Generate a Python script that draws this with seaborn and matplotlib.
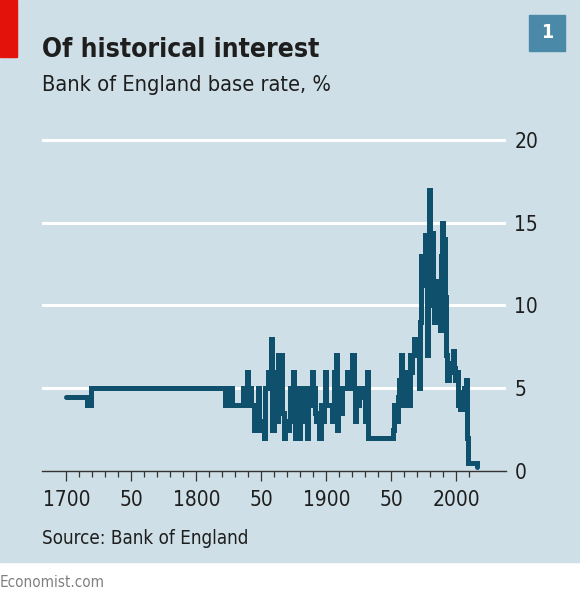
import matplotlib
matplotlib.use('Agg')
import matplotlib.pyplot as plt
import seaborn as sns
from matplotlib.patches import Rectangle

# Bank of England base rate, year it changed (year-end values) and new rate, %
years = [1700, 1716, 1719, 1822, 1825, 1827, 1836, 1838, 1839, 1840,
         1842, 1844, 1845, 1846, 1847, 1848, 1849, 1850, 1852, 1853,
         1855, 1857, 1858, 1860, 1861, 1863, 1864, 1865, 1866, 1867,
         1868, 1870, 1871, 1872, 1873, 1874, 1875, 1876, 1877, 1878,
         1879, 1880, 1881, 1883, 1884, 1885, 1886, 1888, 1889, 1890,
         1891, 1892, 1894, 1896, 1897, 1898, 1899, 1900, 1904, 1905,
         1906, 1907, 1908, 1909, 1910, 1911, 1912, 1916, 1917, 1919,
         1920, 1921, 1922, 1923, 1925, 1927, 1929, 1930, 1931, 1932,
         1951, 1952, 1953, 1954, 1955, 1956, 1957, 1958, 1960, 1961,
         1962, 1963, 1964, 1965, 1966, 1967, 1968, 1969, 1970, 1971,
         1972, 1973, 1974, 1975, 1976, 1977, 1978, 1979, 1980, 1981,
         1982, 1983, 1984, 1985, 1986, 1987, 1988, 1989, 1990, 1991,
         1992, 1993, 1994, 1995, 1996, 1997, 1998, 1999, 2000, 2001,
         2003, 2004, 2005, 2006, 2007, 2008, 2009, 2016]
rates = [4.5, 4, 5, 4, 5, 4, 5, 4, 6, 5,
         4, 2.5, 3.5, 3, 5, 3, 2.5, 3, 2, 5,
         6, 8, 2.5, 6, 3, 7, 6, 7, 3.5, 2,
         3, 2.5, 3, 5, 4.5, 6, 5, 2, 3, 5,
         2, 3, 5, 3, 5, 2, 4, 5, 6, 5,
         3.5, 3, 2, 4, 3, 4, 6, 4, 3, 4,
         6, 7, 2.5, 5, 4.5, 3.5, 5, 6, 5, 6,
         7, 5, 3, 4, 5, 4.5, 5, 3, 6, 2,
         2.5, 4, 3.5, 3, 4.5, 5.5, 7, 4, 5, 6,
         4.5, 4, 7, 6, 7, 8, 7, 8, 7, 5,
         9, 13, 11.5, 11.25, 14.25, 7, 12.5, 17, 14, 14.4,
         10, 9, 9.5, 11.5, 11, 8.5, 13, 15, 14, 10.5,
         7, 5.5, 6.25, 6.5, 6, 7.25, 6.25, 5.5, 6, 4,
         3.75, 4.75, 4.5, 5, 5.5, 2, 0.5, 0.25]

major_ticks = [1700, 1750, 1800, 1850, 1900, 1950, 2000]
major_labels = ['1700', '50', '1800', '50', '1900', '50', '2000']
minor_ticks = list(range(1700, 2020, 10))
y_ticks = [0, 5, 10, 15, 20]

BG = '#cedfe7'
LINE = '#0f506c'
RED = '#e3120b'
BOX = '#4a8aa8'
TXT = '#1e1e1e'

sns.set_style('white')
plt.rcParams['font.family'] = ['DejaVu Sans']
plt.rcParams['font.stretch'] = 'condensed'

W, H = 580, 598
fig = plt.figure(figsize=(W / 100, H / 100), dpi=100)
fig.patch.set_facecolor('white')

# blue panel, red tag, number box
fig.patches.append(Rectangle((0, 1 - 562 / H), 1, 562 / H, transform=fig.transFigure,
                             color=BG, zorder=-10))
fig.patches.append(Rectangle((0, 1 - 57 / H), 17 / W, 57 / H, transform=fig.transFigure,
                             color=RED, zorder=1))
fig.patches.append(Rectangle((529 / W, 1 - 51 / H), 36 / W, 36 / H, transform=fig.transFigure,
                             color=BOX, zorder=1))
fig.text(547 / W, 1 - 33 / H, '1', color='white', weight='bold', size=14,
         ha='center', va='center')

ax = fig.add_axes([42 / W, (H - 471) / H, 464 / W, 341 / H])
ax.set_facecolor('none')

sns.lineplot(x=years, y=rates, ax=ax, estimator=None, drawstyle='steps-post',
             color=LINE, linewidth=3.6, solid_joinstyle='miter', zorder=3)

ax.set_xlim(1681.2, 2038.1)
ax.set_ylim(0, 20.6)
ax.set_xlabel('')
ax.set_ylabel('')

ax.set_xticks(major_ticks)
ax.set_xticklabels(major_labels)
ax.set_xticks(minor_ticks, minor=True)
ax.tick_params(axis='x', which='major', length=7, width=0.9, color='#333333',
               pad=7, labelsize=15, labelcolor=TXT, bottom=True)
ax.tick_params(axis='x', which='minor', length=4, width=0.9, color='#333333', bottom=True)

ax.yaxis.tick_right()
ax.set_yticks(y_ticks)
ax.tick_params(axis='y', length=0, pad=6, labelsize=15, labelcolor=TXT)
for lab in ax.get_yticklabels():
    lab.set_horizontalalignment('left')

ax.yaxis.grid(True, color='white', linewidth=2.2)
ax.xaxis.grid(False)
ax.get_ygridlines()[0].set_visible(False)
ax.set_axisbelow(True)

for side in ['top', 'left', 'right']:
    ax.spines[side].set_visible(False)
ax.spines['bottom'].set_color('#333333')
ax.spines['bottom'].set_linewidth(1.0)

fig.text(42 / W, 1 - 57 / H, 'Of historical interest', weight='bold', size=19,
         color=TXT, va='baseline')
fig.text(42 / W, 1 - 91 / H, 'Bank of England base rate, %', size=15.7,
         color=TXT, va='baseline')
fig.text(42 / W, 1 - 544 / H, 'Source: Bank of England', size=13.5,
         color=TXT, va='baseline')
fig.text(0, 1 - 587 / H, 'Economist.com', size=11, color='#808080', va='baseline')

fig.savefig('out.png', dpi=100)
